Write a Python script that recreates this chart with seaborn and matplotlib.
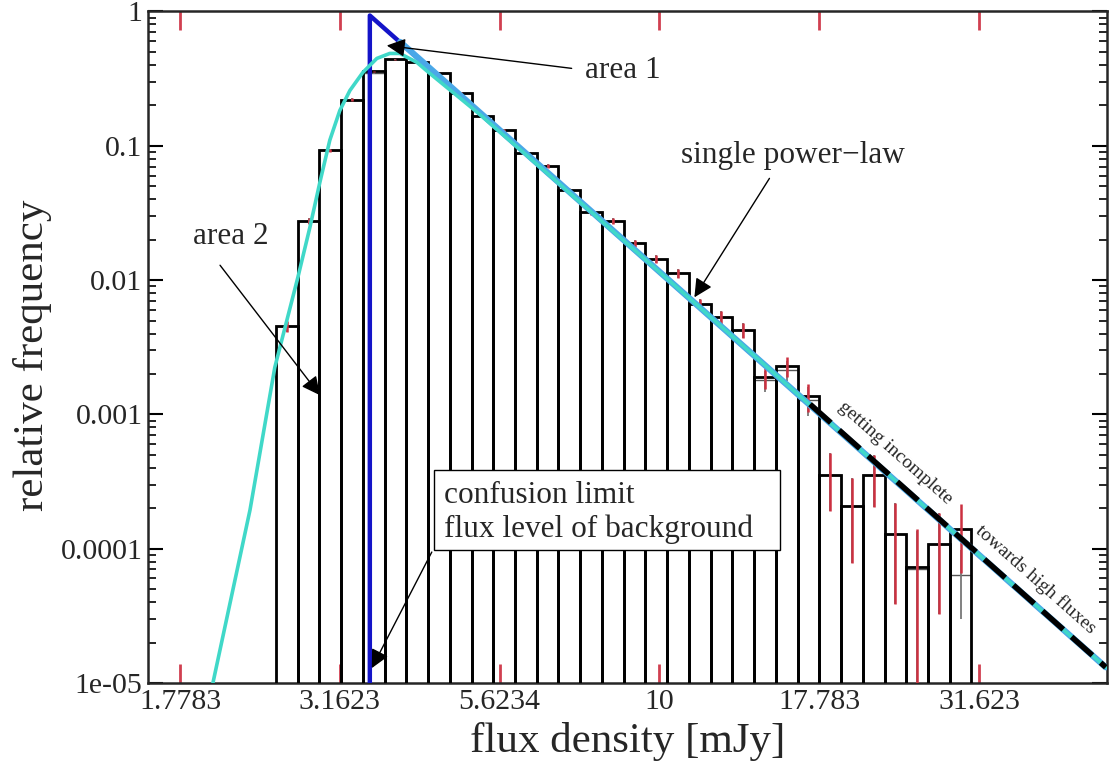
import numpy as np
import pandas as pd
import seaborn as sns
import matplotlib
matplotlib.use("Agg")
import matplotlib.pyplot as plt
from matplotlib import ticker
from matplotlib.patches import Rectangle

# histogram of flux densities (bin centres in mJy) and relative frequencies
flux_centres = [2.612, 2.825, 3.055, 3.304, 3.573, 3.864, 4.178, 4.519, 4.887, 5.284,
                5.715, 6.180, 6.683, 7.228, 7.816, 8.453, 9.141, 9.886, 10.69, 11.56,
                12.50, 13.52, 14.62, 15.81, 17.10, 18.49, 20.00, 21.63, 23.39, 25.29,
                27.35, 29.58]
rel_freq = [0.00453, 0.0274, 0.0925, 0.221, 0.358, 0.440, 0.418, 0.346, 0.249, 0.168,
            0.130, 0.0877, 0.0703, 0.0466, 0.0319, 0.0274, 0.0188, 0.0143, 0.0112, 0.00661,
            0.00529, 0.00423, 0.00189, 0.00229, 0.00136, 0.000353, 0.000207, 0.000353, 0.000129, 0.0000729,
            0.000108, 0.000140]
# second (thin) histogram, nearly identical
rel_freq_b = [0.00453, 0.0274, 0.0925, 0.221, 0.346, 0.440, 0.418, 0.346, 0.249, 0.168,
              0.130, 0.0877, 0.0703, 0.0466, 0.0319, 0.0274, 0.0188, 0.0143, 0.0112, 0.00661,
              0.00529, 0.00423, 0.00179, 0.00213, 0.00128, 0.000353, 0.000207, 0.000353, 0.000129, 0.0000705,
              0.000108, 0.0000637]
rel_err = [0.10, 0.05, 0.03, 0.02, 0.015, 0.012, 0.012, 0.015, 0.017, 0.02,
           0.024, 0.03, 0.032, 0.04, 0.045, 0.05, 0.06, 0.07, 0.08, 0.10,
           0.11, 0.13, 0.18, 0.17, 0.24, 0.46, 0.62, 0.42, 0.70, 0.92,
           0.70, 0.53]

# model curve (log-normal peak joined to the power law)
model_flux = [2.002, 2.288, 2.502, 2.613, 2.719, 2.839, 2.943, 3.050, 3.162, 3.279,
              3.436, 3.613, 3.785, 3.925, 4.173, 4.372, 5.234, 6.73, 11.55, 23.71, 49.9]
model_freq = [1e-5, 1.94e-4, 2.24e-3, 5.02e-3, 0.0105, 0.0247, 0.0535, 0.110, 0.183, 0.258,
              0.352, 0.447, 0.487, 0.487, 0.418, 0.346, 0.1714, 0.0603, 0.00628, 3.03e-4, 1.31e-5]

# single power law cut at the confusion limit
pl_flux = [3.523, 3.523, 49.9]
pl_freq = [1e-5, 0.933, 1.31e-5]
fit_flux = [3.93, 49.9]
fit_freq = [0.593, 1.31e-5]
incompl_flux = [17.2, 49.9]
incompl_freq = [0.00119, 1.31e-5]

xtick_vals = [1.7783, 3.1623, 5.6234, 10, 17.783, 31.623]
xtick_labels = ["1.7783", "3.1623", "5.6234", "10", "17.783", "31.623"]
ytick_vals = [1e-5, 1e-4, 1e-3, 1e-2, 1e-1, 1]
ytick_labels = ["1e-05", "0.0001", "0.001", "0.01", "0.1", "1"]

sns.set_style("ticks")
plt.rcParams["font.family"] = ["Liberation Serif", "DejaVu Serif"]

fig = plt.figure(figsize=(11.14, 7.65), dpi=100)
ax = fig.add_axes([0.1329, 0.1072, 0.8608, 0.8778])

hist = pd.DataFrame({"flux": flux_centres, "a": rel_freq, "b": rel_freq_b, "err": rel_err})

sns.histplot(data=hist, x="flux", weights="b", bins=32, binrange=(0.4, 1.488),
             log_scale=(True, False), element="bars", fill=False,
             color="#555555", linewidth=1.0, ax=ax, zorder=2)
sns.histplot(data=hist, x="flux", weights="a", bins=32, binrange=(0.4, 1.488),
             log_scale=(True, False), element="bars", fill=False,
             color="black", linewidth=2.0, ax=ax, zorder=3)
ax.set_yscale("log")

ax.errorbar(hist["flux"], hist["b"], yerr=hist["b"] * hist["err"], fmt="none",
            ecolor="#777777", elinewidth=1.3, zorder=3.5)
ax.errorbar(hist["flux"], hist["a"], yerr=hist["a"] * hist["err"], fmt="none",
            ecolor="#cc3040", elinewidth=1.8, zorder=4)

sns.lineplot(x=pl_flux, y=pl_freq, sort=False, estimator=None, color="#1414c8",
             linewidth=3.2, ax=ax, zorder=5)
sns.lineplot(x=fit_flux, y=fit_freq, sort=False, estimator=None, color="#4aa8e8",
             linewidth=4.5, ax=ax, zorder=6)
sns.lineplot(x=model_flux, y=model_freq, sort=False, estimator=None, color="#40d8c8",
             linewidth=2.6, ax=ax, zorder=7)
sns.lineplot(x=incompl_flux, y=incompl_freq, sort=False, estimator=None, color="black",
             linewidth=4.0, ax=ax, zorder=8)
ax.lines[-1].set_dashes([5, 2])

ax.set_xlim(10 ** 0.2, 10 ** 1.7)
ax.set_ylim(1e-5, 1)

ax.xaxis.set_major_locator(ticker.FixedLocator(xtick_vals))
ax.xaxis.set_major_formatter(ticker.FixedFormatter(xtick_labels))
ax.xaxis.set_minor_locator(ticker.NullLocator())
ax.yaxis.set_major_locator(ticker.FixedLocator(ytick_vals))
ax.yaxis.set_major_formatter(ticker.FixedFormatter(ytick_labels))
ax.yaxis.set_minor_locator(ticker.LogLocator(base=10, subs=np.arange(2, 10), numticks=20))
ax.yaxis.set_minor_formatter(ticker.NullFormatter())

ax.tick_params(axis="x", which="major", direction="in", top=True, bottom=True,
               length=13.5, width=2, color="#d04050", labelsize=21.5, pad=4)
ax.tick_params(axis="y", which="major", direction="in", left=True, right=True,
               length=11, width=1.5, color="black", labelsize=21.5, pad=4)
ax.tick_params(axis="y", which="minor", direction="in", left=True, right=True,
               length=6, width=1.2, color="black")
for sp in ax.spines.values():
    sp.set_linewidth(1.8)
    sp.set_visible(True)

ax.set_xlabel("flux density [mJy]", fontsize=31)
ax.xaxis.set_label_coords(0.5, -0.058)
ax.set_ylabel("relative frequency", fontsize=31)
ax.yaxis.set_label_coords(-0.100, 0.488)

arrow = dict(arrowstyle="-|>", color="black", lw=1.0, mutation_scale=28, shrinkA=0, shrinkB=0)
ax.annotate("", xy=(3.745, 0.558), xytext=(7.288, 0.377), arrowprops=arrow, zorder=10)
ax.text(7.636, 0.364, "area 1", fontsize=22.5, ha="left", va="center")

ax.annotate("", xy=(11.34, 0.00744), xytext=(14.86, 0.0572), arrowprops=arrow, zorder=10)
ax.text(16.2, 0.0849, "single power\u2212law", fontsize=22.5, ha="center", va="center")

ax.annotate("", xy=(2.943, 0.00139), xytext=(2.054, 0.0129), arrowprops=arrow, zorder=10)
ax.text(2.137, 0.0212, "area 2", fontsize=22.5, ha="center", va="center")

ax.add_patch(Rectangle((0.2982, 0.198), 0.3608, 0.119, transform=ax.transAxes,
                       facecolor="white", edgecolor="black", lw=1.0, zorder=12))
ax.text(0.3087, 0.2545, "confusion limit\nflux level of background", fontsize=22.5,
        transform=ax.transAxes, ha="left", va="center", linespacing=1.2, zorder=13)
ax.annotate("", xy=(3.548, 1.29e-5), xytext=(4.404, 9.44e-5), arrowprops=arrow, zorder=11)

ax.text(23.4, 5.2e-4, "getting incomplete", fontsize=14, rotation=-41.5,
        rotation_mode="anchor", ha="center", va="center")
ax.text(38.8, 5.9e-5, "towards high fluxes", fontsize=14, rotation=-41.5,
        rotation_mode="anchor", ha="center", va="center")

fig.savefig("out.png", dpi=100)
